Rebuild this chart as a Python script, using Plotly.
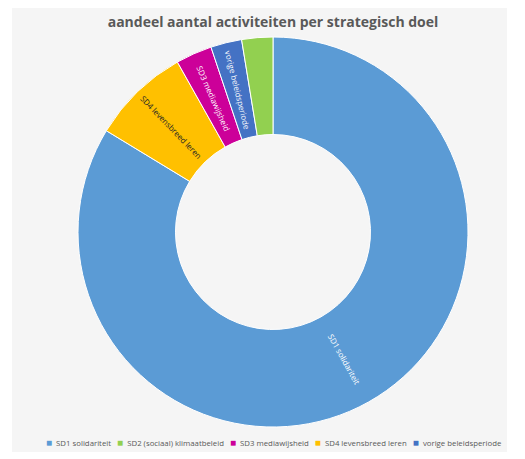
import math
import plotly.graph_objects as go

# Data (drawing order, clockwise from 12 o'clock)
categories = ["SD1 solidariteit", "SD4 levensbreed leren", "SD3 mediawijsheid",
              "vorige beleidsperiode", "SD2 (sociaal) klimaatbeleid"]
values = [195, 19, 7, 6, 6]
slice_text = ["", "SD4 levensbreed leren", "SD3 mediawijsheid",
              "vorige beleidsperiode", ""]
colors = {
    "SD1 solidariteit": "#5B9BD5",
    "SD2 (sociaal) klimaatbeleid": "#92D050",
    "SD3 mediawijsheid": "#CC0099",
    "SD4 levensbreed leren": "#FFC000",
    "vorige beleidsperiode": "#4472C4",
}
text_colors = ["white", "#262626", "white", "white", "white"]
legend_order = ["SD1 solidariteit", "SD2 (sociaal) klimaatbeleid", "SD3 mediawijsheid",
                "SD4 levensbreed leren", "vorige beleidsperiode"]
title = "aandeel aantal activiteiten per strategisch doel"

# figure sits inside the page body (8px margin)
W, H = 517, 451
CX, CY, R, HOLE = 265, 224, 195, 0.5  # pie centre (px from top-left), radius

fig = go.Figure()
fig.add_trace(go.Pie(
    labels=categories,
    values=values,
    text=slice_text,
    textinfo="text",
    hole=HOLE,
    sort=False,
    direction="clockwise",
    rotation=0,
    marker=dict(colors=[colors[c] for c in categories], line=dict(color="white", width=1)),
    insidetextorientation="radial",
    textposition="inside",
    insidetextfont=dict(color=text_colors, size=8, family="Open Sans"),
    showlegend=False,
    domain=dict(x=[(CX - R) / W, (CX + R) / W], y=[(H - CY - R) / H, (H - CY + R) / H]),
))

# radial label for the big SD1 slice, at its mid-angle
total = sum(values)
mid_deg = 360 * (values[0] / 2) / total
rr = R * (1 + HOLE) / 2
lx = CX + rr * math.sin(math.radians(mid_deg))
ly = CY - rr * math.cos(math.radians(mid_deg))
sd1_ann = dict(text=categories[0], xref="paper", yref="paper",
               x=lx / W, y=1 - ly / H, xanchor="center", yanchor="middle",
               textangle=mid_deg - 90, showarrow=False,
               font=dict(family="Open Sans", size=8, color="white"))

legend_html = "&nbsp;&nbsp;&nbsp;".join(
    f"<span style='color:{colors[c]};font-size:10px'>■</span>&nbsp;&nbsp;{c}" for c in legend_order
)

fig.update_layout(
    width=W, height=H,
    margin=dict(l=0, r=0, t=0, b=0),
    paper_bgcolor="white",
    plot_bgcolor="white",
    title=dict(text=f"<b>{title}</b>", x=CX / W, xanchor="center",
               y=1 - 14 / H, yanchor="middle",
               font=dict(family="Open Sans", size=14, color="#595959")),
    shapes=[dict(type="rect", xref="paper", yref="paper",
                 x0=4 / W, x1=499 / W, y0=(H - 444) / H, y1=1,
                 fillcolor="#F5F5F5", line=dict(width=0), layer="below")],
    annotations=[
        dict(text=legend_html, xref="paper", yref="paper",
             x=CX / W, y=1 - 434 / H, xanchor="center", yanchor="middle",
             showarrow=False,
             font=dict(family="Open Sans", size=7.8, color="#595959")),
        sd1_ann,
    ],
)

fig.write_html("out.html")
